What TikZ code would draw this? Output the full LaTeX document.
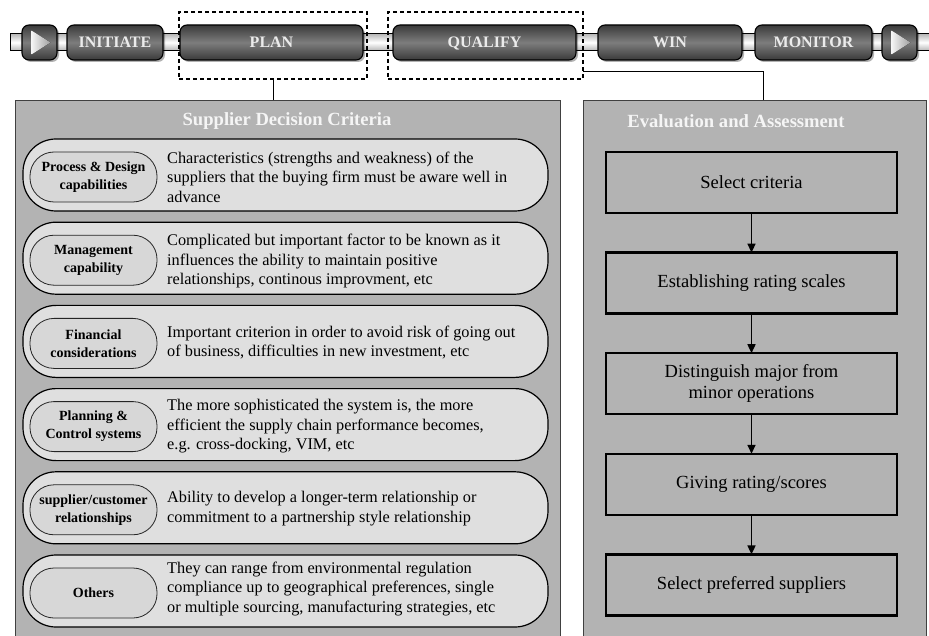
\documentclass[tikz,border=0pt]{standalone}
\usepackage{fontspec}
\setmainfont{Liberation Serif}
\usetikzlibrary{arrows.meta, shadows}
\definecolor{panelgray}{RGB}{179,179,179}
\definecolor{capfill}{RGB}{223,223,223}
\definecolor{labfill}{RGB}{215,215,215}
\definecolor{btndark}{RGB}{58,58,58}
\definecolor{btnmid}{RGB}{125,125,125}

\begin{document}
\begin{tikzpicture}[x=1pt, y=-1pt,
  btn/.style={draw=black, line width=1.1pt, rounded corners=7pt, minimum height=35pt,
    inner sep=0pt, outer sep=0pt, top color=btndark, bottom color=btndark, middle color=btnmid,
    font=\fontsize{16}{18}\selectfont\bfseries, text=white!92!black, text height=11pt, text depth=0pt,
    drop shadow={shadow xshift=2pt, shadow yshift=-2pt, fill=black, opacity=0.3}},
  zone/.style={draw=black, line width=1.3pt, dash pattern=on 4pt off 3pt, minimum height=67pt,
    inner sep=0pt, outer sep=0pt},
  panel/.style={draw=black!75, line width=0.8pt, fill=panelgray, inner sep=0pt, outer sep=0pt},
  paneltitle/.style={font=\fontsize{18.6}{21}\selectfont\bfseries, text=white!96!black},
  critrow/.style={draw=black, line width=1.2pt, fill=capfill, rounded corners=33pt,
    minimum width=525pt, minimum height=72pt, inner sep=0pt, outer sep=0pt},
  critlab/.style={draw=black!85, line width=0.8pt, fill=labfill, rounded corners=24pt,
    minimum width=127pt, minimum height=50pt, inner sep=0pt, align=center,
    font=\fontsize{14}{18}\selectfont\bfseries},
  critdesc/.style={anchor=west, inner sep=0pt, align=left, font=\fontsize{16.3}{19.5}\selectfont},
  evalbox/.style={draw=black, line width=2.4pt, minimum width=291pt, minimum height=61pt,
    inner sep=0pt, outer sep=0pt, align=center, font=\fontsize{18.5}{21}\selectfont},
  flow/.style={line width=1.6pt, -{Triangle[length=9pt, width=8pt]}}]
  \useasboundingbox (0,0) rectangle (929,636);

  \draw[line width=1pt, top color=gray!55, bottom color=gray!60, middle color=white] (10,34) rectangle (945,51);
  \node[btn, minimum width=35pt] (playl) at (39.5,42.5) {};
  \node[btn, minimum width=96pt] (initiate) at (115,42.5) {INITIATE};
  \node[btn, minimum width=183pt] (plan) at (271.5,42.5) {PLAN};
  \node[btn, minimum width=183pt] (qualify) at (484.5,42.5) {QUALIFY};
  \node[btn, minimum width=144pt] (win) at (670,42.5) {WIN};
  \node[btn, minimum width=117pt] (monitor) at (813.5,42.5) {MONITOR};
  \node[btn, minimum width=35pt] (playr) at (899.5,42.5) {};
  \foreach \p in {playl, playr}
    \fill[left color=white!92!gray, right color=gray!75] ([xshift=-8pt, yshift=12pt]\p.center)
      -- ([xshift=11pt]\p.center) -- ([xshift=-8pt, yshift=-12pt]\p.center) -- cycle;

  \node[zone, minimum width=188pt] (planzone) at (273,45.5) {};
  \node[zone, minimum width=195pt] (qualzone) at (485.5,45.5) {};

  \node[panel, minimum width=545pt, minimum height=545pt] (critpanel) at (287.5,372.5) {};
  \node[panel, minimum width=343pt, minimum height=545pt] (evalpanel) at (754.5,372.5) {};
  \draw[line width=1pt] (planzone.south) -- (planzone.south |- critpanel.north);
  \draw[line width=1pt] ([yshift=7pt]qualzone.south east) -| ([xshift=8.5pt]evalpanel.north);

  \node[paneltitle] (crittitle) at (287,121) {Supplier Decision Criteria};
  \node[paneltitle] (evaltitle) at (736,121) {Evaluation and Assessment};

  \foreach \i/\lab/\desc/\ty in {
    0/{Process \& Design\\capabilities}/{Characteristics (strengths and weakness) of the\\suppliers that the buying firm must be aware well in\\advance}/2,
    1/{Management\\capability}/{Complicated but important factor to be known as it\\influences the ability to maintain positive\\relationships, continous improvment, etc}/3,
    2/{Financial\\considerations}/{Important criterion in order to avoid risk of going out\\of business, difficulties in new investment, etc}/1,
    3/{Planning \&\\Control systems}/{The more sophisticated the system is, the more\\efficient the supply chain performance becomes,\\e.g. cross-docking, VIM, etc}/2,
    4/{supplier/customer\\relationships}/{Ability to develop a longer-term relationship or\\commitment to a partnership style relationship}/1,
    5/{Others}/{They can range from environmental regulation\\compliance up to geographical preferences, single\\or multiple sourcing, manufacturing strategies, etc}/-2} {
    \pgfmathsetmacro\cy{175+83.2*\i}
    \node[critrow] (crit\i) at (285.5,\cy) {};
    \node[critlab] (critlab\i) at (93.5,\cy+2) {\lab};
    \node[critdesc] (critdesc\i) at (167,\cy+\ty) {\desc};
  }

  \foreach \i/\txt in {0/{Select criteria}, 1/{Establishing rating scales},
    2/{Distinguish major from\\minor operations}, 3/{Giving rating/scores}, 4/{Select preferred suppliers}}
    \node[evalbox] (evalbox\i) at (751.5,182.5+100.6*\i) {\txt};
  \foreach \i [count=\j from 1] in {0,...,3}
    \draw[flow] (evalbox\i.south) -- (evalbox\j.north);
\end{tikzpicture}
\end{document}
